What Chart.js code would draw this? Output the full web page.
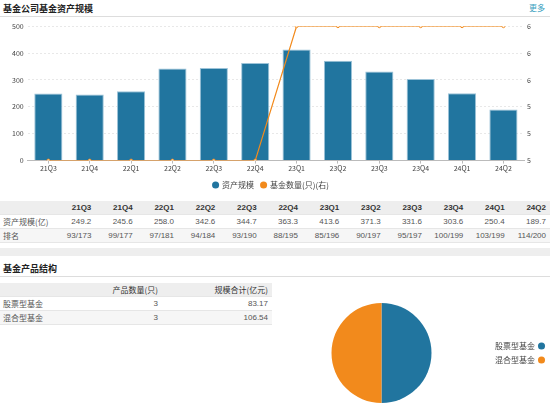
<!DOCTYPE html>
<html>
<head>
<meta charset="utf-8">
<script src="https://cdn.jsdelivr.net/npm/chart.js@4"></script>
<style>
  body { margin: 0; width: 550px; height: 411px; overflow: hidden; background: #fff;
         font-family: "Liberation Sans", "Noto Sans CJK SC", sans-serif; }
  .head { position: absolute; left: 0; width: 550px; height: 16px; border-bottom: 1px solid #ddd; }
  .head b { position: absolute; left: 3px; top: 2px; font-size: 9px; color: #222;
            font-family: "Noto Sans CJK SC", sans-serif; }
  .head a { position: absolute; right: 5px; top: 2px; font-size: 8px; color: #3a9fc0;
            font-family: "Noto Sans CJK SC", sans-serif; }
  table { position: absolute; border-collapse: collapse; font-size: 8px; color: #555; table-layout: fixed; }
  td, th { height: 13px; padding: 0 4px 0 3px; border-bottom: 1px solid #e6e6e6; white-space: nowrap; }
  th { background: #eeeeee; color: #333; font-weight: bold; text-align: right; }
  td { text-align: right; }
  td:first-child { text-align: left; font-family: "Noto Sans CJK SC", sans-serif; }
  tr.alt td { background: #f6f6f6; }
  #band { position: absolute; left: 0; top: 248px; width: 550px; height: 8px; background: #eeeeee; }
</style>
</head>
<body>
<div class="head" style="top:0"><b>基金公司基金资产规模</b><a>更多</a></div>
<div style="position:absolute;left:0;top:18px;width:550px;height:181px">
  <canvas id="barChart" width="550" height="181"></canvas>
</div>
<table id="t1" style="left:0;top:201px;width:550px"></table>
<div id="band"></div>
<div class="head" style="top:257px;height:19px"><b style="top:5px">基金产品结构</b></div>
<table id="t2" style="left:0;top:283px;width:272px"></table>
<div style="position:absolute;left:270px;top:290px;width:280px;height:121px">
  <canvas id="pieChart" width="280" height="121"></canvas>
</div>
<script>
const quarters = ['21Q3', '21Q4', '22Q1', '22Q2', '22Q3', '22Q4', '23Q1', '23Q2', '23Q3', '23Q4', '24Q1', '24Q2'];
const assetSize = [249.2, 245.6, 258.0, 342.6, 344.7, 363.3, 413.6, 371.3, 331.6, 303.6, 250.4, 189.7];
const fundCount = [5, 5, 5, 5, 5, 5, 6, 6, 6, 6, 6, 6];
const ranks = ['93/173', '99/177', '97/181', '94/184', '93/190', '88/195', '85/196', '90/197', '95/197', '100/199', '103/199', '114/200'];

const productTypes = ['股票型基金', '混合型基金'];
const productCount = [3, 3];
const productScale = [83.17, 106.54];

const blue = '#21759f';
const orange = '#f28a1c';

// 表格
let h1 = '<colgroup><col style="width:54px">' + quarters.map(() => '<col>').join('') + '</colgroup>';
h1 += '<tr><th></th>' + quarters.map(q => '<th>' + q + '</th>').join('') + '</tr>';
h1 += '<tr><td>资产规模(亿)</td>' + assetSize.map(v => '<td>' + v.toFixed(1) + '</td>').join('') + '</tr>';
h1 += '<tr class="alt"><td>排名</td>' + ranks.map(v => '<td>' + v + '</td>').join('') + '</tr>';
document.getElementById('t1').innerHTML = h1;

let h2 = '<colgroup><col style="width:103px"><col style="width:59px"><col style="width:110px"></colgroup>';
h2 += '<tr><th></th><th style="font-weight:normal;font-family:Noto Sans CJK SC">产品数量(只)</th><th style="font-weight:normal;font-family:Noto Sans CJK SC">规模合计(亿元)</th></tr>';
productTypes.forEach((t, i) => {
  h2 += '<tr' + (i % 2 ? ' class="alt"' : '') + '><td>' + t + '</td><td>' + productCount[i] + '</td><td>' + productScale[i].toFixed(2) + '</td></tr>';
});
document.getElementById('t2').innerHTML = h2;

Chart.defaults.font.family = '"Noto Sans CJK SC", sans-serif';
Chart.defaults.font.size = 7;
Chart.defaults.color = '#444';

// 图例圆点实心
const filledLabels = chart => Chart.defaults.plugins.legend.labels.generateLabels(chart).map(l => {
  const ds = chart.data.datasets[l.datasetIndex];
  if (ds) { l.fillStyle = ds.type === 'bar' ? ds.backgroundColor : ds.borderColor; l.strokeStyle = l.fillStyle; }
  l.lineWidth = 0;
  return l;
});

new Chart(document.getElementById('barChart'), {
  data: {
    labels: quarters,
    datasets: [{
      type: 'line',
      label: '基金数量(只)(右)',
      data: fundCount,
      yAxisID: 'y1',
      borderColor: orange,
      backgroundColor: orange,
      borderWidth: 1.2,
      pointRadius: 1.5,
      pointBackgroundColor: '#fff',
      pointBorderColor: orange,
      pointBorderWidth: 1,
      order: 0
    }, {
      type: 'bar',
      label: '资产规模',
      data: assetSize,
      yAxisID: 'y',
      backgroundColor: blue,
      borderColor: '#9cc3d8',
      borderWidth: { top: 1, left: 1, right: 1, bottom: 0 },
      barPercentage: 0.68,
      categoryPercentage: 1,
      order: 1
    }]
  },
  options: {
    responsive: false,
    animation: false,
    layout: { padding: { left: 8, right: 16, top: 4, bottom: 0 } },
    plugins: {
      legend: {
        position: 'bottom',
        reverse: true,
        labels: { usePointStyle: true, pointStyle: 'circle', boxWidth: 5, boxHeight: 5, padding: 7,
                  font: { size: 8 }, generateLabels: filledLabels }
      },
      tooltip: { enabled: false }
    },
    scales: {
      x: {
        grid: { display: true, drawOnChartArea: false, offset: false, tickLength: 3, color: '#bbb' },
        border: { color: '#bbb' },
        ticks: { padding: 1 }
      },
      y: {
        position: 'left',
        min: 0, max: 500,
        ticks: { stepSize: 100, padding: 4 },
        grid: { color: '#e8e8e8', drawTicks: false },
        border: { display: false, dash: [2, 2] }
      },
      y1: {
        position: 'right',
        min: 5, max: 6,
        ticks: { stepSize: 0.2, padding: 3, callback: v => Math.round(v) },
        grid: { display: false, drawTicks: false },
        border: { display: false }
      }
    }
  }
});

new Chart(document.getElementById('pieChart'), {
  type: 'pie',
  data: {
    labels: productTypes,
    datasets: [{
      data: productCount,
      backgroundColor: [blue, orange],
      borderWidth: 0
    }]
  },
  options: {
    responsive: false,
    animation: false,
    layout: { padding: { left: 8, top: 13, bottom: 8 } },
    plugins: {
      legend: {
        position: 'right',
        rtl: true,
        labels: { usePointStyle: true, pointStyle: 'circle', boxWidth: 5, boxHeight: 5, padding: 6, font: { size: 8 } }
      },
      tooltip: { enabled: false }
    }
  }
});
</script>
</body>
</html>
